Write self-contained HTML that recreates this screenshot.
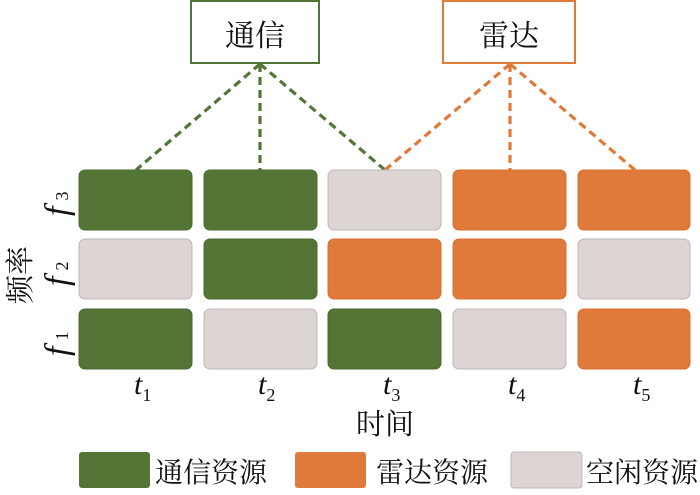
<!DOCTYPE html><html><head><meta charset="utf-8"><style>
body{margin:0;background:#fff;width:700px;height:490px;overflow:hidden}
</style></head><body>
<svg width="700" height="490" xmlns="http://www.w3.org/2000/svg" font-family="'Liberation Serif','Noto Serif CJK SC',serif">
<rect x="191" y="1" width="128" height="62" fill="#fff" stroke="#537636" stroke-width="2"/>
<text x="255" y="46" font-size="30" text-anchor="middle" fill="#111">通信</text>
<rect x="443" y="1" width="132" height="62" fill="#fff" stroke="#e07a3a" stroke-width="2"/>
<text x="509" y="46" font-size="30" text-anchor="middle" fill="#111">雷达</text>
<g stroke-width="3.2" stroke-dasharray="8,5" fill="none">
<path d="M260 64L136 170M260 64L260 170M260 64L385 170" stroke="#537636"/>
<path d="M510 64L385 170M510 64L510 170M510 64L635 170" stroke="#e07a3a"/>
</g>
<g stroke-width="1">
<rect x="79" y="170" width="113" height="60" rx="6" fill="#537636" stroke="#4a6a30"/>
<rect x="204" y="170" width="113" height="60" rx="6" fill="#537636" stroke="#4a6a30"/>
<rect x="328" y="170" width="113" height="60" rx="6" fill="#dcd5d3" stroke="#c0b8b5"/>
<rect x="453" y="170" width="113" height="60" rx="6" fill="#e07a3a" stroke="#d77030"/>
<rect x="578" y="170" width="112" height="60" rx="6" fill="#e07a3a" stroke="#d77030"/>
<rect x="79" y="239" width="113" height="60" rx="6" fill="#dcd5d3" stroke="#c0b8b5"/>
<rect x="204" y="239" width="113" height="60" rx="6" fill="#537636" stroke="#4a6a30"/>
<rect x="328" y="239" width="113" height="60" rx="6" fill="#e07a3a" stroke="#d77030"/>
<rect x="453" y="239" width="113" height="60" rx="6" fill="#e07a3a" stroke="#d77030"/>
<rect x="578" y="239" width="112" height="60" rx="6" fill="#dcd5d3" stroke="#c0b8b5"/>
<rect x="79" y="309" width="113" height="60" rx="6" fill="#537636" stroke="#4a6a30"/>
<rect x="204" y="309" width="113" height="60" rx="6" fill="#dcd5d3" stroke="#c0b8b5"/>
<rect x="328" y="309" width="113" height="60" rx="6" fill="#537636" stroke="#4a6a30"/>
<rect x="453" y="309" width="113" height="60" rx="6" fill="#dcd5d3" stroke="#c0b8b5"/>
<rect x="578" y="309" width="112" height="60" rx="6" fill="#e07a3a" stroke="#d77030"/>
</g>
<g font-size="34" font-style="italic" fill="#111">
<text transform="translate(68,216) rotate(-90)">f<tspan font-size="18" font-style="normal" dx="6">3</tspan></text>
<text transform="translate(68,286) rotate(-90)">f<tspan font-size="18" font-style="normal" dx="6">2</tspan></text>
<text transform="translate(68,356) rotate(-90)">f<tspan font-size="18" font-style="normal" dx="6">1</tspan></text>
</g>
<text transform="translate(30,304) rotate(-90)" font-size="29" fill="#111">频率</text>
<g font-size="30" font-style="italic" fill="#111">
<text x="134" y="394">t<tspan font-size="18" font-style="normal" dy="7">1</tspan></text>
<text x="258" y="394">t<tspan font-size="18" font-style="normal" dy="7">2</tspan></text>
<text x="383" y="394">t<tspan font-size="18" font-style="normal" dy="7">3</tspan></text>
<text x="508" y="394">t<tspan font-size="18" font-style="normal" dy="7">4</tspan></text>
<text x="633" y="394">t<tspan font-size="18" font-style="normal" dy="7">5</tspan></text>
</g>
<text x="385" y="434" font-size="29" text-anchor="middle" fill="#111">时间</text>
<rect x="79" y="452" width="71" height="36" rx="3" fill="#537636"/>
<text x="155" y="482" font-size="28" fill="#111">通信资源</text>
<rect x="295" y="452" width="71" height="36" rx="3" fill="#e07a3a"/>
<text x="376" y="482" font-size="28" fill="#111">雷达资源</text>
<rect x="511" y="452" width="71" height="36" rx="3" fill="#dcd5d3" stroke="#c0b8b5"/>
<text x="586" y="482" font-size="28" fill="#111">空闲资源</text>
</svg>
</body></html>
